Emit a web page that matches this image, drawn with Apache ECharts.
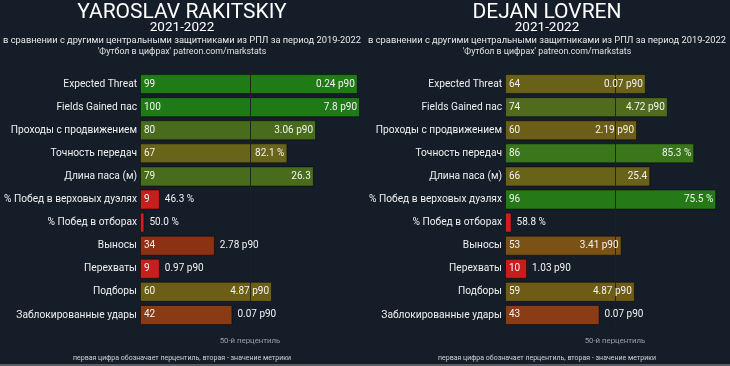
<!DOCTYPE html>
<html>
<head>
<meta charset="utf-8">
<script src="https://cdn.jsdelivr.net/npm/echarts@6/dist/echarts.min.js"></script>
<style>
html,body{margin:0;padding:0;background:#141d28;}
#c{width:730px;height:366px;}
</style>
</head>
<body>
<div id="c"></div>
<script>
var categories = ['Expected Threat','Fields Gained пас','Проходы с продвижением','Точность передач','Длина паса (м)','% Побед в верховых дуэлях','% Побед в отборах','Выносы','Перехваты','Подборы','Заблокированные удары'];
var rakPct = [99,100,80,67,79,9,2,34,9,60,42];
var rakVal = ['0.24 p90','7.8 p90','3.06 p90','82.1 %','26.3','46.3 %','50.0 %','2.78 p90','0.97 p90','4.87 p90','0.07 p90'];
var lovPct = [64,74,60,86,66,96,3,53,10,59,43];
var lovVal = ['0.07 p90','4.72 p90','2.19 p90','85.3 %','25.4','75.5 %','58.8 %','3.41 p90','1.03 p90','4.87 p90','0.07 p90'];
var players = ['YAROSLAV RAKITSKIY','DEJAN LOVREN'];
var season = '2021-2022';
var subtitle = 'в сравнении с другими центральными защитниками из РПЛ за период 2019-2022';
var source = "'Футбол в цифрах' patreon.com/markstats";
var medianText = '50-й перцентиль';
var footnote = 'первая цифра обозначает перцентиль, вторая - значение метрики';

var stops = [[0,[210,30,30]],[12,[196,30,28]],[30,[140,46,20]],[45,[138,62,20]],[53,[122,82,22]],[60,[108,94,22]],[67,[104,100,26]],[74,[80,106,30]],[80,[72,108,28]],[86,[58,118,26]],[100,[30,122,22]]];
function pctColor(p){
  for(var i=1;i<stops.length;i++){
    if(p<=stops[i][0]){
      var a=stops[i-1],b=stops[i],t=(p-a[0])/(b[0]-a[0]);
      var c=a[1].map(function(v,k){return Math.round(v+(b[1][k]-v)*t);});
      return 'rgb('+c.join(',')+')';
    }
  }
  return 'rgb(30,122,22)';
}

var font = 'Roboto';
var lefts = [140,505];
var centers = [182,547];
var grids=[],xAxes=[],yAxes=[],series=[],graphics=[];
[[rakPct,rakVal],[lovPct,lovVal]].forEach(function(pv,i){
  var pct=pv[0],val=pv[1];
  grids.push({left:lefts[i],width:220,top:72.5,height:254,containLabel:false,outerBoundsMode:'none'});
  xAxes.push({gridIndex:i,type:'value',min:0,max:100,show:false,splitLine:{show:false}});
  yAxes.push({gridIndex:i,type:'category',data:categories,inverse:true,
    axisLine:{show:false},axisTick:{show:false},splitLine:{show:false},
    axisLabel:{color:'#f0f0f0',fontSize:10.2,fontFamily:font,margin:3}});
  series.push({type:'bar',xAxisIndex:i,yAxisIndex:i,barWidth:20,
    data:pct.map(function(p){return {value:p,itemStyle:{color:pctColor(p),borderColor:'rgba(0,0,0,0.45)',borderWidth:1},
      label:{show:p>=5}};}),
    label:{show:true,position:'insideLeft',distance:4,color:'#f2f2f2',fontSize:10,fontFamily:font,formatter:'{c}'},
    markLine:{silent:true,symbol:'none',label:{show:false},lineStyle:{color:'rgba(25,35,25,0.9)',width:1,type:'solid'},data:[{xAxis:50}],z:5},
    z:2});
  series.push({type:'bar',xAxisIndex:i,yAxisIndex:i,barWidth:20,barGap:'-100%',
    itemStyle:{color:'rgba(0,0,0,0)'},
    data:pct.map(function(p,k){return {value:p,label:{show:true,position:p>=50?'insideRight':'right',distance:p>=50?3:5,formatter:val[k]}};}),
    label:{color:'#f2f2f2',fontSize:10,fontFamily:font},z:6});
  var cx=centers[i];
  graphics.push({type:'text',x:cx,y:13,style:{text:players[i],fill:'#ffffff',font:'21px Roboto',textAlign:'center',textVerticalAlign:'middle'}});
  graphics.push({type:'text',x:cx,y:28,style:{text:season,fill:'#ffffff',font:'13.5px Roboto',textAlign:'center',textVerticalAlign:'middle'}});
  graphics.push({type:'text',x:cx,y:41,style:{text:subtitle,fill:'#e8e8e8',font:'9.3px Roboto',textAlign:'center',textVerticalAlign:'middle'}});
  graphics.push({type:'text',x:cx,y:52,style:{text:source,fill:'#e0e0e0',font:'8.8px Roboto',textAlign:'center',textVerticalAlign:'middle'}});
  graphics.push({type:'text',x:lefts[i]+110,y:341,style:{text:medianText,fill:'#9aa0a6',font:'7.8px Roboto',textAlign:'center',textVerticalAlign:'middle'}});
  graphics.push({type:'text',x:cx,y:358,style:{text:footnote,fill:'#d0d0d0',font:'7px Roboto',textAlign:'center',textVerticalAlign:'middle'}});
});
graphics.push({type:'rect',shape:{x:0,y:364,width:730,height:2},style:{fill:'#5a5f66'}});

var chart = echarts.init(document.getElementById('c'),null,{renderer:'canvas'});
chart.setOption({
  backgroundColor:'#141d28',
  animation:false,
  grid:grids,xAxis:xAxes,yAxis:yAxes,series:series,graphic:graphics
});
</script>
</body>
</html>
